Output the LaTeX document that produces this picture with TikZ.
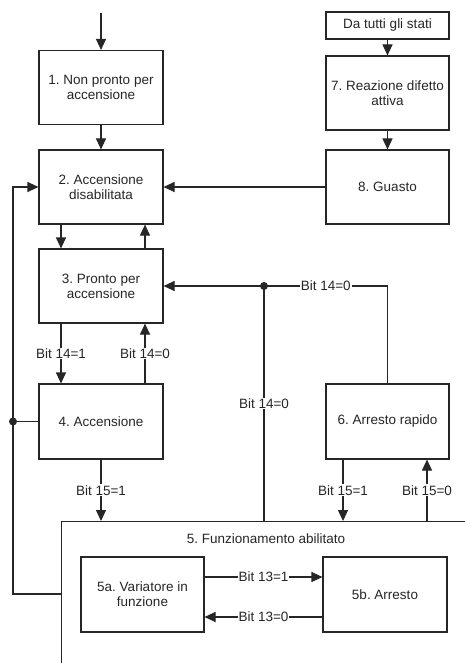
\documentclass[tikz,border=0pt]{standalone}
\usepackage{fontspec}
\setmainfont{Liberation Sans}
\usetikzlibrary{arrows.meta}
\frenchspacing
\begin{document}
\begin{tikzpicture}[x=1pt,y=-1pt,
  txt/.style={font=\fontsize{13.5}{15}\selectfont, text=black!85},
  state/.style={draw=black!85, line width=1.1pt, minimum width=124pt, minimum height=74pt,
    align=center, inner sep=0pt, txt},
  wire/.style={draw=black!85, line width=1.1pt},
  flow/.style={wire, -{Triangle[length=11pt,width=10pt]}},
  lbl/.style={fill=white, inner sep=1pt, txt},
  junction/.style={circle, fill=black!85, inner sep=0pt, minimum size=8pt}
]
\clip (0,0) rectangle (465,663);

% states
\node[state] (s1) at (101,87.5) {1. Non pronto per\\accensione};
\node[state] (s2) at (101,187) {2. Accensione\\disabilitata};
\node[state] (s3) at (101,286) {3. Pronto per\\accensione};
\node[state, minimum height=75pt] (s4) at (101,421.5) {4. Accensione};
\node[state, minimum width=123pt, minimum height=27pt] (all) at (387.5,25.5) {Da tutti gli stati};
\node[state, minimum width=123pt] (s7) at (387.5,93) {7. Reazione difetto\\attiva};
\node[state, minimum width=123pt] (s8) at (387.5,187) {8. Guasto};
\node[state, minimum width=123pt, minimum height=75pt] (s6) at (387.5,421.5) {6. Arresto rapido};
\node[state, minimum width=420pt, minimum height=200pt, anchor=north west] (s5) at (61,521) {};
\node[txt] (s5t) at (266,539) {5. Funzionamento abilitato};
\node[state, minimum width=123pt, minimum height=75pt] (s5a) at (142.5,594.5) {5a. Variatore in\\funzione};
\node[state, minimum height=75pt] (s5b) at (385,594.5) {5b. Arresto};

% helper columns and rows
\coordinate (entry) at (101,13);
\coordinate (cl) at (61,0);
\coordinate (cr) at (145,0);
\coordinate (c6l) at (343,0);
\coordinate (c6r) at (427,0);
\coordinate (lx) at (13,0);
\coordinate (rloop) at (0,594);
\coordinate (r13a) at (0,577);
\coordinate (r13b) at (0,617);
\coordinate (j1) at (264,286);
\coordinate (j2) at (13,421.5);

% connectors
\draw[flow] (entry) -- (s1);
\draw[flow] (s1) -- (s2);
\draw[flow] (all) -- (s7);
\draw[flow] (s7) -- (s8);
\draw[flow] (s8) -- (s2);

\draw[flow] (cl |- s2.south) -- (cl |- s3.north);
\draw[flow] (cr |- s3.north) -- (cr |- s2.south);
\draw[flow] (cl |- s3.south) -- node[lbl] {Bit 14=1} (cl |- s4.north);
\draw[flow] (cr |- s4.north) -- node[lbl] {Bit 14=0} (cr |- s3.south);

\draw[wire] (s6.north) |- node[lbl, pos=0.75] {Bit 14=0} (j1);
\draw[flow] (j1) -- (s3.east);
\draw[wire] (j1 |- s5.north) -- node[lbl] {Bit 14=0} (j1);
\node[junction] (dot1) at (j1) {};

\draw[flow] (s4.south) -- node[lbl] {Bit 15=1} (s4.south |- s5.north);
\draw[flow] (c6l |- s6.south) -- node[lbl] {Bit 15=1} (c6l |- s5.north);
\draw[flow] (c6r |- s5.north) -- node[lbl] {Bit 15=0} (c6r |- s6.south);

\draw[flow] (s5a.east |- r13a) -- node[lbl] {Bit 13=1} (s5b.west |- r13a);
\draw[flow] (s5b.west |- r13b) -- node[lbl] {Bit 13=0} (s5a.east |- r13b);

\draw[flow] (s5.west |- rloop) -- (lx |- rloop) |- (s2.west);
\draw[wire] (s4.west) -- (j2);
\node[junction] (dot2) at (j2) {};
\end{tikzpicture}
\end{document}
